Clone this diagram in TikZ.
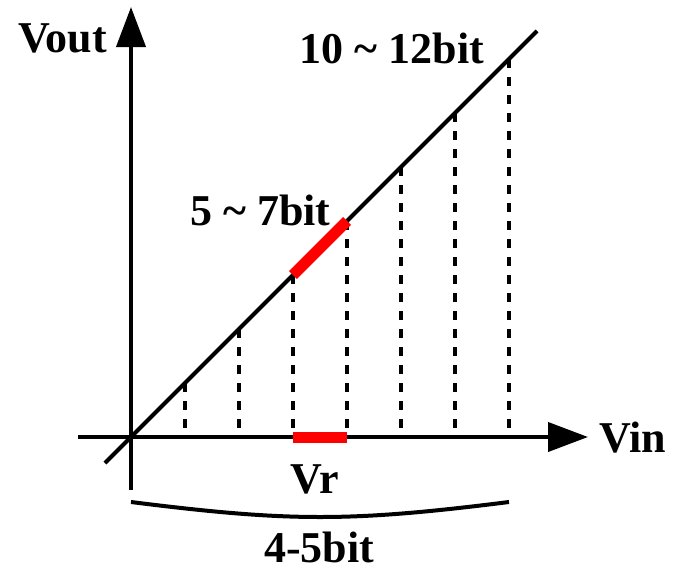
\documentclass[tikz,border=0pt]{standalone}
\usepackage{fontspec}
\setmainfont{Liberation Serif}
\usetikzlibrary{arrows.meta}
\begin{document}
\begin{tikzpicture}[x=1pt,y=-1pt,
  axis/.style={line width=4pt,-{Triangle[length=40pt,width=29pt]}},
  ramp/.style={line width=4pt},
  guide/.style={line width=4pt,dash pattern=on 9pt off 9pt},
  redbar/.style={line width=11pt,red},
  lbl/.style={inner sep=0pt,anchor=base,font=\bfseries\fontsize{44}{50}\selectfont}]
\useasboundingbox (0,0) rectangle (674,573);
% coordinates
\coordinate (ybot) at (131,490);
\coordinate (ytop) at (131,7);
\coordinate (xl) at (78,437);
\coordinate (xr) at (588,437);
\coordinate (dlo) at (105,463);
\coordinate (dhi) at (537,31);
% axes
\draw[axis] (ybot) -- (ytop);
\draw[axis] (xl) -- (xr);
% ramp
\draw[ramp] (dlo) -- (dhi);
% dashed guides
\foreach \x [count=\i] in {185,239,293,347,401,455,509}{
  \coordinate (g\i t) at (\x,{568-\x});
  \coordinate (g\i b) at (\x,437);
  \draw[guide] (g\i t) -- (g\i b);
}
% red segments
\draw[redbar] (g3b) -- (g4b);
\draw[redbar] (g3t) -- (g4t);
% brace
\coordinate (bl) at (131,502);
\coordinate (br) at (509,502);
\draw[line width=4pt] (bl) .. controls (290,522) and (350,522) .. (br);
% labels
\node[lbl] (vout) at (62.5,52) {Vout};
\node[lbl] (b12) at (392,63) {10 \char`~{} 12bit};
\node[lbl] (b7) at (260.5,225) {5 \char`~{} 7bit};
\node[lbl] (vin) at (633,452) {Vin};
\node[lbl] (vr) at (315,493) {Vr};
\node[lbl] (b45) at (319,562) {4-5bit};
\end{tikzpicture}
\end{document}
